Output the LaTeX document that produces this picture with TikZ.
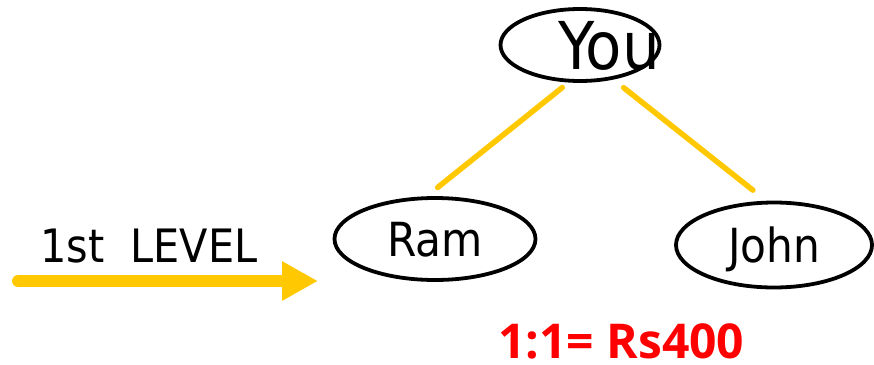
\documentclass[tikz,border=0pt]{standalone}
\usepackage{fontspec}
\newfontfamily\diagfont{DejaVu Sans Condensed}
\newfontfamily\notefont{Open Sans}
\usetikzlibrary{shapes.geometric,arrows.meta}
\definecolor{levelyellow}{RGB}{255,200,0}
\definecolor{payred}{RGB}{255,0,0}

\begin{document}
\begin{tikzpicture}[x=1pt,y=-1pt,
    person/.style={draw, ellipse, line width=3.8pt, inner sep=0pt, text height=34pt, text depth=0pt, font=\diagfont\fontsize{47}{50}\selectfont},
    link/.style={levelyellow, line width=5.5pt, line cap=round}]
  \useasboundingbox (0,0) rectangle (874,364);
  % the tree
  \node [person, minimum width=159pt, minimum height=72pt, label={[font=\diagfont\fontsize{66}{70}\selectfont, text height=48pt, text depth=0pt, inner sep=0pt, xshift=29pt]center:You}] (you) at (580,45) {};
  \node [person, minimum width=201pt, minimum height=82pt] (ram) at (435,239) {Ram};
  \node [person, minimum width=196pt, minimum height=85pt] (john) at (774,245) {John};
  \draw [link, shorten <=8pt, shorten >=14pt] (you.253) -- (ram.101);
  \draw [link, shorten <=13pt, shorten >=17pt] (you.314) -- (john.100);
  % level marker
  \node [anchor=base west, inner sep=0pt, font=\diagfont\fontsize{46}{50}\selectfont] (level) at (40,262) {1st~~LEVEL};
  \coordinate (tail) at (18,281);
  \coordinate (head) at (318,281);
  \draw [levelyellow, line width=12pt, line cap=round, -{Triangle[length=36pt,width=37pt]}] (tail) -- (head);
  \node [payred, anchor=base west, inner sep=0pt, text depth=0pt, font=\notefont\bfseries\fontsize{48}{50}\selectfont] (ratio) at (498,358) {1:1= Rs400};
\end{tikzpicture}
\end{document}
